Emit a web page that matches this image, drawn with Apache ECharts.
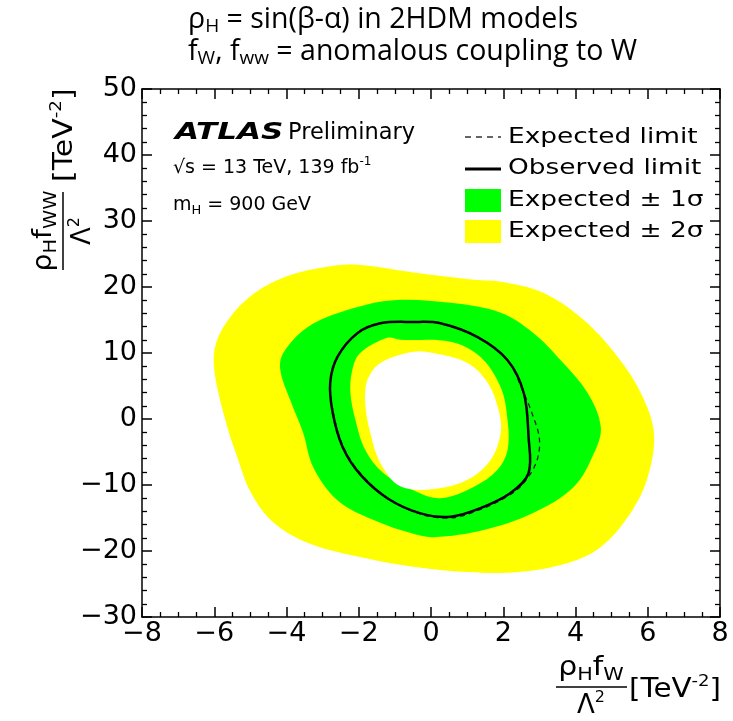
<!DOCTYPE html>
<html>
<head>
<meta charset="utf-8">
<script src="https://cdn.jsdelivr.net/npm/echarts@6/dist/echarts.min.js"></script>
<style>
  html, body { margin: 0; padding: 0; background: #ffffff; }
  #chart { width: 733px; height: 721px; }
</style>
</head>
<body>
<div id="chart"></div>
<script>
// Axis ranges and ticks
const xRange = [-8, 8];
const yRange = [-30, 50];
const xStep = 2;
const yStep = 10;

// Expected +-2 sigma band: outer edge (TeV^-2, TeV^-2)
const band2sOuter = [
  [-2.15, 23.4], [-0.49, 22.2], [1.18, 21.1], [1.93, 20.8], [3.12, 19.1],
  [4.23, 15.0], [5.17, 9.4], [5.81, 3.9], [6.17, -2.1], [6.00, -8.8],
  [5.53, -14.2], [4.70, -19.4], [3.79, -21.8], [2.40, -23.2], [1.01, -23.2],
  [-0.49, -22.4], [-1.90, -21.0], [-3.40, -18.8], [-4.40, -15.5], [-5.00, -11.0],
  [-5.35, -6.0], [-5.70, 0.0], [-6.00, 7.5], [-5.95, 11.5], [-5.55, 15.5],
  [-4.90, 19.0], [-4.05, 21.5], [-3.15, 22.8]
];

// Expected +-1 sigma band: outer edge
const band1sOuter = [
  [-1.04, 18.0], [0.54, 17.6], [1.93, 16.1], [2.84, 13.0], [3.59, 8.9],
  [4.34, 3.9], [4.70, -1.2], [4.51, -5.2], [3.95, -10.3], [2.84, -14.2],
  [1.46, -16.8], [0.07, -17.9], [-0.49, -17.4], [-1.59, -15.3], [-2.59, -12.3],
  [-3.26, -7.3], [-3.54, -2.1], [-3.90, 2.9], [-4.17, 7.4], [-4.09, 10.0],
  [-3.42, 13.9], [-2.32, 16.5]
];

// Expected +-1 sigma band: inner edge
const band1sInner = [
  [-0.85, 12.0], [0.54, 11.7], [1.37, 9.4], [1.93, 4.8], [2.12, -0.2],
  [2.12, -4.7], [1.84, -7.7], [1.18, -10.3], [0.26, -12.0], [-0.49, -10.8],
  [-1.32, -8.2], [-1.82, -4.7], [-2.09, -0.2], [-2.23, 3.9], [-2.18, 7.4],
  [-1.96, 10.0], [-1.21, 12.3]
];

// Expected +-2 sigma band: inner edge
const band2sInner = [
  [-0.49, 10.2], [0.07, 10.0], [1.01, 8.5], [1.57, 5.5], [1.87, 1.4],
  [1.93, -2.1], [1.65, -6.2], [1.01, -9.2], [0.07, -10.6], [-0.85, -10.2],
  [-1.40, -6.7], [-1.68, -2.1], [-1.82, 2.4], [-1.76, 5.9], [-1.40, 8.5]
];

// Expected limit contour
const expectedLimit = [
  [-0.49, 14.7], [0.26, 14.5], [1.29, 12.4], [2.12, 8.9], [2.57, 3.9],
  [2.80, 0.8], [3.00, -3.0], [2.92, -6.5], [2.55, -9.8], [2.15, -11.6],
  [1.37, -13.7], [0.54, -15.0], [-0.29, -14.4], [-1.21, -11.9], [-1.96, -8.2],
  [-2.43, -4.2], [-2.70, 0.9], [-2.79, 5.5], [-2.59, 9.4], [-2.04, 13.0],
  [-1.40, 14.5]
];

// Observed limit contour
const observedLimit = [
  [-0.49, 14.7], [0.26, 14.5], [1.29, 12.4], [2.12, 8.9], [2.57, 3.9],
  [2.70, -2.7], [2.70, -8.2], [2.20, -11.2], [1.37, -13.5], [0.54, -14.8],
  [-0.29, -14.3], [-1.21, -12.0], [-1.96, -8.4], [-2.45, -4.2], [-2.72, 0.9],
  [-2.79, 5.5], [-2.59, 9.4], [-2.04, 13.0], [-1.40, 14.5]
];

const FONT = 'DejaVu Sans';
const chart = echarts.init(document.getElementById('chart'), null, { renderer: 'canvas' });

// Closed smooth contour drawn through the cartesian coordinate system
function contour(name, pts, style, z) {
  return {
    type: 'custom',
    name: name,
    coordinateSystem: 'cartesian2d',
    xAxisIndex: 0,
    yAxisIndex: 0,
    data: pts,
    encode: { x: 0, y: 1 },
    silent: true,
    z: z,
    renderItem: function (params, api) {
      if (params.dataIndex !== 0) return null;
      const points = pts.map(function (p) { return api.coord(p); });
      return {
        type: 'polygon',
        shape: { points: points, smooth: 0.35 },
        style: Object.assign({}, style)
      };
    }
  };
}

const minus = function (v) { return String(v).replace('-', '\u2212'); };

const axisCommon = {
  type: 'value',
  axisLine: { show: true, onZero: false, lineStyle: { color: '#000', width: 1.5 } },
  axisTick: { show: true, inside: true, length: 10, lineStyle: { color: '#000', width: 1.5 } },
  minorTick: { show: true, length: 5, lineStyle: { color: '#000', width: 1.3 } },
  splitLine: { show: false },
  minorSplitLine: { show: false }
};

function xAxis(position, labels) {
  return Object.assign({}, axisCommon, {
    position: position, min: xRange[0], max: xRange[1], interval: xStep,
    minorTick: Object.assign({}, axisCommon.minorTick, { splitNumber: 4 }),
    axisLabel: labels ? { show: true, color: '#000', fontFamily: FONT, fontSize: 27, margin: 3, formatter: minus } : { show: false }
  });
}
function yAxis(position, labels) {
  return Object.assign({}, axisCommon, {
    position: position, min: yRange[0], max: yRange[1], interval: yStep,
    minorTick: Object.assign({}, axisCommon.minorTick, { splitNumber: 5 }),
    axisLabel: labels ? { show: true, color: '#000', fontFamily: FONT, fontSize: 27, margin: 5, formatter: minus } : { show: false }
  });
}

const richBase = function (size) {
  return {
    m: { fontFamily: FONT, fontSize: size, lineHeight: size + 6, verticalAlign: 'middle', color: '#000' },
    sub: { fontFamily: FONT, fontSize: Math.round(size * 0.68), lineHeight: 12, verticalAlign: 'bottom', color: '#000' },
    sup: { fontFamily: FONT, fontSize: Math.round(size * 0.62), lineHeight: 12, verticalAlign: 'top', color: '#000' }
  };
};
const richTitle = {
  m: { fontFamily: 'Open Sans', fontSize: 28.5, lineHeight: 33, verticalAlign: 'middle', color: '#000' },
  sub: { fontFamily: 'Open Sans', fontSize: 19, lineHeight: 12, verticalAlign: 'bottom', color: '#000' }
};

const legendText = function (y, text) {
  return { type: 'text', x: 508, y: y, scaleX: 1.2, style: { text: text, fontFamily: FONT, fontSize: 22, fill: '#000', verticalAlign: 'middle' } };
};

const graphics = [
  // Title lines
  { type: 'text', x: 188, y: 20, style: { text: '{m|ρ}{sub|H}{m| = sin(β-α) in 2HDM models}', rich: richTitle, verticalAlign: 'middle' } },
  { type: 'text', x: 188, y: 52, style: { text: '{m|f}{sub|W}{m|, f}{sub|ww}{m| = anomalous coupling to W}', rich: richTitle, verticalAlign: 'middle' } },

  // ATLAS label block
  { type: 'text', x: 175, y: 133, scaleX: 1.35, style: { text: 'ATLAS', fontFamily: FONT, fontSize: 23, fontWeight: 'bold', fontStyle: 'italic', fill: '#000', verticalAlign: 'middle' } },
  { type: 'text', x: 288, y: 133, style: { text: 'Preliminary', fontFamily: FONT, fontSize: 22.5, fill: '#000', verticalAlign: 'middle' } },
  { type: 'text', x: 173, y: 168, style: { text: '{m|√s = 13 TeV, 139 fb}{sup|-1}', rich: richBase(19), verticalAlign: 'middle' } },
  { type: 'text', x: 173, y: 205, style: { text: '{m|m}{sub|H}{m| = 900 GeV}', rich: richBase(19), verticalAlign: 'middle' } },

  // Legend
  { type: 'line', shape: { x1: 465, y1: 137, x2: 501, y2: 137 }, style: { stroke: '#333', lineWidth: 1.5, lineDash: [6, 5] } },
  { type: 'line', shape: { x1: 465, y1: 169, x2: 501, y2: 169 }, style: { stroke: '#000', lineWidth: 3 } },
  { type: 'rect', shape: { x: 465, y: 189, width: 36, height: 23 }, style: { fill: '#00ff00' } },
  { type: 'rect', shape: { x: 465, y: 220, width: 36, height: 23 }, style: { fill: '#ffff00' } },
  legendText(137, 'Expected limit'),
  legendText(168, 'Observed limit'),
  legendText(200, 'Expected ± 1σ'),
  legendText(231, 'Expected ± 2σ'),

  // Y axis title (rotated fraction)
  {
    type: 'group', x: 63, y: 270, rotation: Math.PI / 2,
    children: [
      { type: 'line', shape: { x1: 0, y1: 0, x2: 78, y2: 0 }, style: { stroke: '#000', lineWidth: 1.5 } },
      { type: 'text', x: 39, y: -3, scaleX: 1.08, style: { text: '{m|ρ}{sub|H}{m|f}{sub|WW}', rich: richBase(26), align: 'center', verticalAlign: 'bottom' } },
      { type: 'text', x: 39, y: 4, style: { text: '{m|Λ}{sup|2}', rich: richBase(26), align: 'center', verticalAlign: 'top' } },
      { type: 'text', x: 88, y: 2, scaleX: 1.15, style: { text: '{m|[TeV}{sup|-2}{m|]}', rich: richBase(26), align: 'left', verticalAlign: 'middle' } }
    ]
  },

  // X axis title (fraction)
  { type: 'line', shape: { x1: 556, y1: 687, x2: 627, y2: 687 }, style: { stroke: '#000', lineWidth: 1.5 } },
  { type: 'text', x: 591, y: 684, scaleX: 1.15, style: { text: '{m|ρ}{sub|H}{m|f}{sub|W}', rich: richBase(26), align: 'center', verticalAlign: 'bottom' } },
  { type: 'text', x: 591, y: 690, style: { text: '{m|Λ}{sup|2}', rich: richBase(26), align: 'center', verticalAlign: 'top' } },
  { type: 'text', x: 629, y: 690, scaleX: 1.13, style: { text: '{m|[TeV}{sup|-2}{m|]}', rich: richBase(26), align: 'left', verticalAlign: 'middle' } }
];

chart.setOption({
  animation: false,
  backgroundColor: '#ffffff',
  grid: { left: 142, right: 13, top: 89, bottom: 104, containLabel: false },
  xAxis: [xAxis('bottom', true), xAxis('top', false)],
  yAxis: [yAxis('left', true), yAxis('right', false)],
  series: [
    contour('Expected ± 2σ', band2sOuter, { fill: '#ffff00' }, 1),
    contour('Expected ± 1σ', band1sOuter, { fill: '#00ff00' }, 2),
    contour('Expected ± 2σ inner', band1sInner, { fill: '#ffff00' }, 3),
    contour('Allowed', band2sInner, { fill: '#ffffff' }, 4),
    contour('Expected limit', expectedLimit, { fill: 'none', stroke: '#222', lineWidth: 1.3, lineDash: [5, 4] }, 5),
    contour('Observed limit', observedLimit, { fill: 'none', stroke: '#000', lineWidth: 2.5 }, 6)
  ],
  graphic: graphics
});
</script>
</body>
</html>
